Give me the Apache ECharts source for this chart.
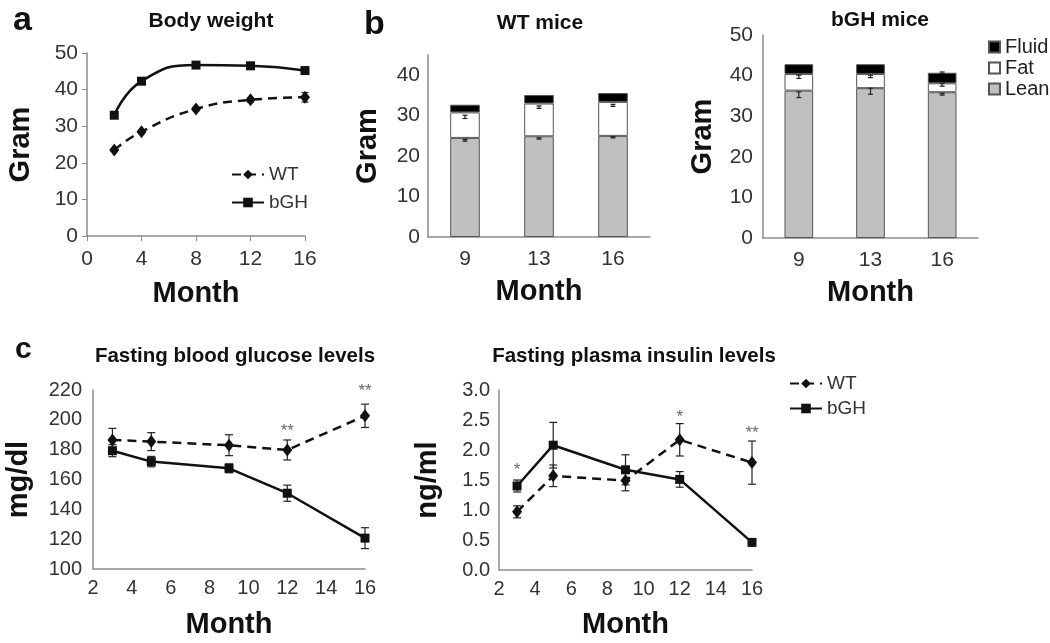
<!DOCTYPE html>
<html>
<head>
<meta charset="utf-8">
<script src="https://cdn.jsdelivr.net/npm/echarts@6/dist/echarts.min.js"></script>
<style>
  html, body { margin: 0; padding: 0; background: #fff; }
  #main { width: 1050px; height: 643px; }
</style>
</head>
<body>
<div id="main"></div>
<script>
// ---- data -------------------------------------------------------
// a: body weight
var bwMonths = [2, 4, 8, 12, 16];
var bwWT = [23.5, 28.5, 34.7, 37.2, 37.9];
var bwBGH = [33.0, 42.3, 46.7, 46.5, 45.2];
var bwWTErr = [0.4, 0.5, 0.5, 0.6, 1.3];
var bwBGHErr = [0.5, 0.5, 0.5, 0.5, 0.6];

// b: body composition
var bcMonths = ['9', '13', '16'];
var wtLean = [24.5, 24.9, 25.0];
var wtFat = [6.3, 8.1, 8.4];
var wtFluid = [1.9, 2.1, 2.2];
var bghLean = [36.3, 36.9, 35.9];
var bghFat = [4.1, 3.5, 2.2];
var bghFluid = [2.4, 2.4, 2.6];
// error bars: [category index, low, high]
var wtBarErr = [[0, 23.7, 24.1], [1, 24.2, 24.5], [2, 24.5, 24.8],
                [0, 29.3, 30.1], [1, 31.8, 32.4], [2, 32.3, 32.8]];
var bghBarErr = [[0, 34.6, 36.0], [1, 35.4, 36.9], [2, 35.2, 35.6],
                 [0, 39.3, 40.1], [1, 39.5, 40.1], [2, 37.4, 38.1],
                 [2, 40.5, 40.9]];

// c: glucose and insulin
var cMonths = [3, 5, 9, 12, 16];
var gluWT = [186.5, 185.4, 183.0, 179.8, 202.7];
var gluWTErr = [7.8, 6.0, 7.0, 6.7, 7.8];
var gluBGH = [179.3, 172.0, 167.5, 150.8, 120.7];
var gluBGHErr = [4.0, 3.5, 3.0, 5.4, 7.0];
var gluStars = [[12, 192, '**'], [16, 219, '**']];

var insWT = [0.97, 1.57, 1.49, 2.17, 1.79];
var insWTErr = [0.10, 0.18, 0.17, 0.27, 0.36];
var insBGH = [1.40, 2.08, 1.67, 1.51, 0.46];
var insBGHErr = [0.10, 0.38, 0.25, 0.13, 0.02];
var insStars = [[3, 1.66, '*'], [12, 2.54, '*'], [16, 2.28, '**']];

// ---- helpers ----------------------------------------------------
var FONT = 'Liberation Sans, Arial, sans-serif';
var AXIS_GRAY = '#8c8c8c';
var INK = '#111';

function pairs(xs, ys) {
    return xs.map(function (x, i) { return [x, ys[i]]; });
}
function errData(xs, ys, es) {
    return xs.map(function (x, i) { return [x, ys[i] - es[i], ys[i] + es[i]]; });
}
function errSeries(data, xi, yi, capW) {
    return {
        type: 'custom', xAxisIndex: xi, yAxisIndex: yi, z: 5, silent: true,
        data: data,
        renderItem: function (params, api) {
            var x = api.value(0);
            var top = api.coord([x, api.value(2)]);
            var bot = api.coord([x, api.value(1)]);
            var h = capW / 2;
            var st = { stroke: '#222', lineWidth: 1.2 };
            return {
                type: 'group',
                children: [
                    { type: 'line', shape: { x1: top[0], y1: top[1], x2: bot[0], y2: bot[1] }, style: st },
                    { type: 'line', shape: { x1: top[0] - h, y1: top[1], x2: top[0] + h, y2: top[1] }, style: st },
                    { type: 'line', shape: { x1: bot[0] - h, y1: bot[1], x2: bot[0] + h, y2: bot[1] }, style: st }
                ]
            };
        }
    };
}
function starSeries(stars, xi, yi) {
    return {
        type: 'scatter', xAxisIndex: xi, yAxisIndex: yi, symbolSize: 0, silent: true,
        data: stars.map(function (s) { return { value: [s[0], s[1]], name: s[2] }; }),
        label: {
            show: true, position: 'inside', formatter: '{b}',
            fontFamily: FONT, fontSize: 17, color: '#444'
        }
    };
}
function valAxis(gi, min, max, interval, opt) {
    var a = {
        type: 'value', gridIndex: gi, min: min, max: max, interval: interval,
        axisLine: { show: true, lineStyle: { color: AXIS_GRAY, width: 1.5 } },
        axisTick: { show: false },
        splitLine: { show: false },
        axisLabel: { fontFamily: FONT, fontSize: 21, color: '#333', margin: 9 },
        nameTextStyle: { fontFamily: FONT, fontSize: 29, fontWeight: 'bold', color: INK },
        nameLocation: 'middle'
    };
    for (var k in opt) {
        if (typeof opt[k] === 'object' && a[k]) { Object.assign(a[k], opt[k]); } else { a[k] = opt[k]; }
    }
    return a;
}
function catAxis(gi) {
    return {
        type: 'category', gridIndex: gi, data: bcMonths,
        axisLine: { show: true, lineStyle: { color: AXIS_GRAY, width: 1.5 } },
        axisTick: { show: false },
        axisLabel: { fontFamily: FONT, fontSize: 21, color: '#333', margin: 12 },
        name: 'Month', nameLocation: 'middle', nameGap: 40,
        nameTextStyle: { fontFamily: FONT, fontSize: 29, fontWeight: 'bold', color: INK }
    };
}
function lineSeries(name, data, xi, yi, dashed, smooth) {
    return {
        name: name, type: 'line', xAxisIndex: xi, yAxisIndex: yi, z: 6,
        data: data, smooth: smooth ? 0.5 : false,
        symbol: dashed ? 'diamond' : 'rect',
        symbolSize: dashed ? [10, 13] : 9,
        itemStyle: { color: INK },
        lineStyle: { color: INK, width: 2.5, type: dashed ? [9, 6] : 'solid' }
    };
}
function barSeries(name, data, xi, yi, stack, color) {
    return {
        name: name, type: 'bar', stack: stack, xAxisIndex: xi, yAxisIndex: yi,
        data: data, barWidth: '40%',
        itemStyle: { color: color, borderColor: '#555', borderWidth: 1 }
    };
}
function txt(text, x, y, size, align) {
    return {
        type: 'text', x: x, y: y,
        style: {
            text: text, fill: INK, textAlign: align || 'center', textVerticalAlign: 'middle',
            font: 'bold ' + size + 'px ' + FONT
        }
    };
}

var myChart = echarts.init(document.getElementById('main'));

var option = {
    animation: false,
    backgroundColor: '#fff',
    graphic: [
        txt('a', 13, 21, 34, 'left'),
        txt('b', 364, 25, 34, 'left'),
        txt('c', 15, 350, 30, 'left'),
        txt('Body weight', 211, 21, 21),
        txt('WT mice', 540, 23, 21),
        txt('bGH mice', 880, 20, 21),
        txt('Fasting blood glucose levels', 235, 356, 20.5),
        txt('Fasting plasma insulin levels', 634, 356, 20.5)
    ],
    legend: [
        {
            data: ['WT', 'bGH'], orient: 'vertical', left: 226, top: 160,
            itemWidth: 32, itemHeight: 12, itemGap: 9,
            textStyle: { fontFamily: FONT, fontSize: 19, color: '#333' }
        },
        {
            data: ['WT', 'bGH'], orient: 'vertical', left: 784, top: 369,
            itemWidth: 32, itemHeight: 12, itemGap: 6,
            textStyle: { fontFamily: FONT, fontSize: 19, color: '#333' }
        },
        {
            data: ['Fluid', 'Fat', 'Lean'], orient: 'vertical', left: 983, top: 32,
            icon: 'rect', itemWidth: 11, itemHeight: 11, itemGap: 1,
            textStyle: { fontFamily: FONT, fontSize: 20, color: '#222', lineHeight: 20 }
        }
    ],
    grid: [
        { left: 87, top: 53, width: 218, height: 183 },
        { left: 428, top: 55, width: 222, height: 182 },
        { left: 763, top: 35, width: 215, height: 203 },
        { left: 93, top: 390, width: 272, height: 179 },
        { left: 499, top: 390, width: 253, height: 180 }
    ],
    xAxis: [
        valAxis(0, 0, 16, 4, {
            axisTick: { show: true, length: 5, lineStyle: { color: AXIS_GRAY } },
            axisLabel: { margin: 13 },
            name: 'Month', nameGap: 43
        }),
        catAxis(1),
        catAxis(2),
        valAxis(3, 2, 16, 2, { axisLabel: { margin: 9, fontSize: 20 }, name: 'Month', nameGap: 41 }),
        valAxis(4, 2, 16, 2, { axisLabel: { margin: 9, fontSize: 20 }, name: 'Month', nameGap: 40 })
    ],
    yAxis: [
        valAxis(0, 0, 50, 10, {
            axisTick: { show: true, length: 5, lineStyle: { color: AXIS_GRAY } },
            name: 'Gram', nameGap: 52
        }),
        valAxis(1, 0, 45, 10, {
            axisLabel: { margin: 8, formatter: function (v) { return v % 10 === 0 ? v : ''; } },
            name: 'Gram', nameGap: 46
        }),
        valAxis(2, 0, 50, 10, { axisLabel: { margin: 10 }, name: 'Gram', nameGap: 46 }),
        valAxis(3, 100, 220, 20, { axisLabel: { margin: 11, fontSize: 20 }, name: 'mg/dl', nameGap: 60 }),
        valAxis(4, 0, 3, 0.5, {
            axisLabel: { margin: 9, fontSize: 20, formatter: function (v) { return v.toFixed(1); } },
            name: 'ng/ml', nameGap: 57
        })
    ],
    series: [
        // a
        lineSeries('WT', pairs(bwMonths, bwWT), 0, 0, true, true),
        lineSeries('bGH', pairs(bwMonths, bwBGH), 0, 0, false, true),
        errSeries(errData(bwMonths, bwWT, bwWTErr), 0, 0, 7),
        errSeries(errData(bwMonths, bwBGH, bwBGHErr), 0, 0, 7),
        // b WT
        barSeries('Lean', wtLean, 1, 1, 'wt', '#c0c0c0'),
        barSeries('Fat', wtFat, 1, 1, 'wt', '#ffffff'),
        barSeries('Fluid', wtFluid, 1, 1, 'wt', '#000000'),
        errSeries(wtBarErr, 1, 1, 5),
        // b bGH
        barSeries('Lean', bghLean, 2, 2, 'bgh', '#c0c0c0'),
        barSeries('Fat', bghFat, 2, 2, 'bgh', '#ffffff'),
        barSeries('Fluid', bghFluid, 2, 2, 'bgh', '#000000'),
        errSeries(bghBarErr, 2, 2, 5),
        // c glucose
        lineSeries('WT', pairs(cMonths, gluWT), 3, 3, true, false),
        lineSeries('bGH', pairs(cMonths, gluBGH), 3, 3, false, false),
        errSeries(errData(cMonths, gluWT, gluWTErr), 3, 3, 8),
        errSeries(errData(cMonths, gluBGH, gluBGHErr), 3, 3, 8),
        starSeries(gluStars, 3, 3),
        // c insulin
        lineSeries('WT', pairs(cMonths, insWT), 4, 4, true, false),
        lineSeries('bGH', pairs(cMonths, insBGH), 4, 4, false, false),
        errSeries(errData(cMonths, insWT, insWTErr), 4, 4, 8),
        errSeries(errData(cMonths, insBGH, insBGHErr), 4, 4, 8),
        starSeries(insStars, 4, 4)
    ]
};
myChart.setOption(option);
</script>
</body>
</html>
